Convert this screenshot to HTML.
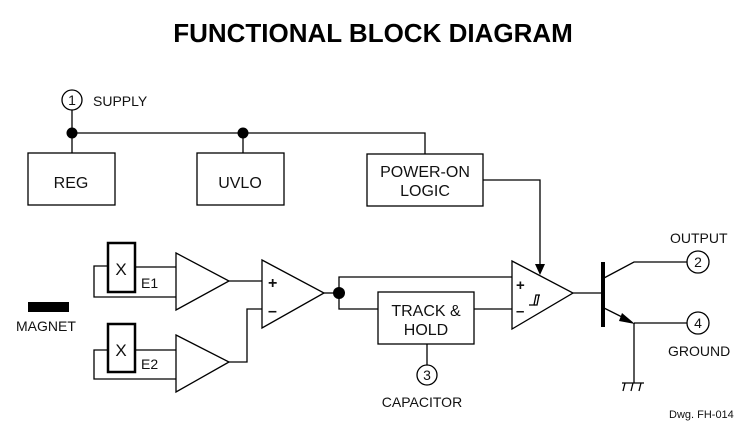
<!DOCTYPE html>
<html><head><style>body{margin:0;background:#fff}svg{display:block}</style></head><body>
<svg width="751" height="432" xmlns="http://www.w3.org/2000/svg" font-family="Liberation Sans, Arial, sans-serif">
<text x="373" y="42" text-anchor="middle" font-size="26" font-weight="bold">FUNCTIONAL BLOCK DIAGRAM</text>
<g stroke="#000" stroke-width="1.3" fill="none">
<circle cx="72" cy="100" r="10"/>
<line x1="72" y1="110" x2="72" y2="153"/>
<polyline points="72,133 425,133 425,154"/>
<line x1="243" y1="133" x2="243" y2="153"/>
<rect x="28" y="153" width="87" height="52"/>
<rect x="197" y="153" width="87" height="52"/>
<rect x="367" y="154" width="116" height="52"/>
<polyline points="483,180 540,180 540,266"/>
<rect x="108" y="243" width="27" height="49" stroke-width="2.5"/>
<polyline points="108,266 94,266 94,297 176,297"/>
<line x1="135" y1="267" x2="176" y2="267"/>
<polygon points="176,253 229,281 176,310"/>
<rect x="108" y="324" width="27" height="48" stroke-width="2.5"/>
<polyline points="108,350 94,350 94,379 176,379"/>
<line x1="135" y1="350" x2="176" y2="350"/>
<polygon points="176,335 229,362 176,392"/>
<polygon points="262,260 324,293 262,328"/>
<line x1="229" y1="281" x2="262" y2="281"/>
<polyline points="229,362 247,362 247,309 262,309"/>
<line x1="324" y1="293" x2="339" y2="293"/>
<polyline points="339,293 339,277 512,277"/>
<polyline points="339,293 339,309 378,309"/>
<rect x="378" y="292" width="96" height="52"/>
<line x1="474" y1="309" x2="512" y2="309"/>
<line x1="427" y1="344" x2="427" y2="365"/>
<circle cx="427" cy="375" r="10"/>
<polygon points="512,261 573,293 512,329"/>
<polyline points="529,305 534,305 536,295 540,295"/>
<polyline points="534,305 537,305 539,295"/>
<line x1="573" y1="293" x2="602" y2="293"/>
<polyline points="604,278 634,262 687,262"/>
<circle cx="698" cy="262" r="11"/>
<line x1="604" y1="308" x2="628" y2="320"/>
<polyline points="634,323 687,323"/>
<circle cx="698" cy="323" r="11"/>
<line x1="634" y1="323" x2="634" y2="383"/>
<line x1="622" y1="383" x2="644" y2="383"/>
<line x1="625" y1="383" x2="623" y2="391"/><line x1="633" y1="383" x2="631" y2="391"/><line x1="641" y1="383" x2="639" y2="391"/>
</g>
<polygon points="535,264 545,264 540,275" fill="#000"/>
<polygon points="622,313 635,324 619,321" fill="#000"/>
<rect x="601" y="262" width="4" height="65" fill="#000"/>
<circle cx="72" cy="133" r="5.5"/><circle cx="243" cy="133" r="5.5"/><circle cx="339" cy="293" r="6"/>
<rect x="28" y="302" width="41" height="10" fill="#000"/>
<g font-size="15" fill="#111">
<text x="72" y="105" text-anchor="middle" font-size="14">1</text>
<text x="93" y="106" font-size="14">SUPPLY</text>
<text x="71" y="188" text-anchor="middle" font-size="16">REG</text>
<text x="240" y="188" text-anchor="middle" font-size="16">UVLO</text>
<text x="425" y="177" text-anchor="middle" font-size="16">POWER-ON</text>
<text x="425" y="196" text-anchor="middle" font-size="16">LOGIC</text>
<text x="121" y="275" text-anchor="middle" font-size="17">X</text>
<text x="121" y="356" text-anchor="middle" font-size="17">X</text>
<text x="141" y="288" font-size="14">E1</text>
<text x="141" y="369" font-size="14">E2</text>
<text x="16" y="331" font-size="14">MAGNET</text>
<text x="268" y="288" font-size="16" font-weight="bold">+</text>
<text x="268" y="316" font-size="16" font-weight="bold">–</text>
<text x="516" y="290" font-size="15" font-weight="bold">+</text>
<text x="516" y="316" font-size="15" font-weight="bold">–</text>
<text x="426" y="316" text-anchor="middle" font-size="16">TRACK &amp;</text>
<text x="426" y="335" text-anchor="middle" font-size="16">HOLD</text>
<text x="427" y="380" text-anchor="middle" font-size="14">3</text>
<text x="422" y="407" text-anchor="middle" font-size="14">CAPACITOR</text>
<text x="670" y="243" font-size="14">OUTPUT</text>
<text x="698" y="267" text-anchor="middle" font-size="14">2</text>
<text x="698" y="328" text-anchor="middle" font-size="14">4</text>
<text x="668" y="356" font-size="14">GROUND</text>
<text x="669" y="418" font-size="11">Dwg. FH-014</text>
</g>
</svg>
</body></html>
